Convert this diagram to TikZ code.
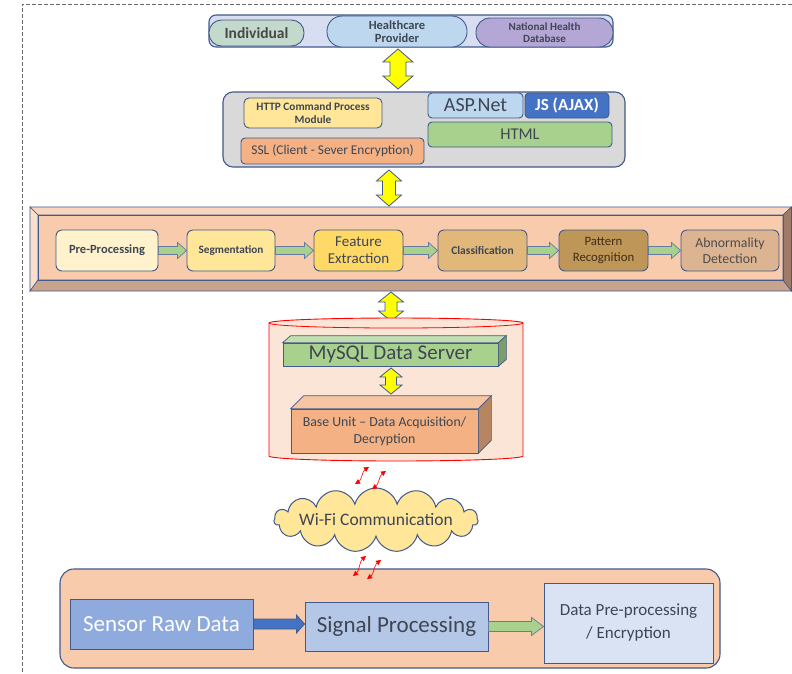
\documentclass[tikz,border=0pt]{standalone}
\usepackage{fontspec}
\setmainfont{Carlito}
\usetikzlibrary{shapes.symbols,arrows.meta,calc}
\definecolor{bord}{HTML}{41598B}
\definecolor{txt}{HTML}{3E4654}
\definecolor{topfill}{HTML}{D7DEF1}
\definecolor{indfill}{HTML}{C3D9CB}
\definecolor{hcpfill}{HTML}{BDD7EE}
\definecolor{nhdfill}{HTML}{B4A7D6}
\definecolor{webfill}{HTML}{D9D9D9}
\definecolor{yel1}{HTML}{FFE699}
\definecolor{yel2}{HTML}{FFF2CC}
\definecolor{yel3}{HTML}{FFD966}
\definecolor{greenf}{HTML}{A9D18E}
\definecolor{salmon}{HTML}{F4B183}
\definecolor{peach}{HTML}{F8CBAD}
\definecolor{blue1}{HTML}{4472C4}
\definecolor{blue2}{HTML}{8FAADC}
\definecolor{blue3}{HTML}{B4C7E7}
\definecolor{blue4}{HTML}{DAE3F3}
\definecolor{tan1}{HTML}{E2B77A}
\definecolor{tan2}{HTML}{BE9658}
\definecolor{tan3}{HTML}{DDB491}
\definecolor{cylf}{HTML}{FBE5D6}
\definecolor{arrowyel}{HTML}{FFFF00}
\definecolor{bevtop}{HTML}{F9D5BE}
\definecolor{bevleft}{HTML}{FBDFCE}
\definecolor{bevbot}{HTML}{C8A48D}
\definecolor{bevright}{HTML}{9E7C67}
\tikzset{
  base/.style={draw=bord, line width=0.9pt, inner sep=1pt, align=center, text=txt},
  rbox/.style={base, rounded corners=5pt},
  sqbox/.style={base},
  dblarrow/.style={draw=bord, fill=arrowyel, line width=0.8pt, line join=miter},
  grarrow/.style={draw=bord!80, fill=greenf, line width=0.7pt},
  blarrow/.style={draw=bord, fill=blue1, line width=0.7pt},
  squig/.style={red, line width=0.6pt, {Triangle[length=5pt,width=5pt]}-{Triangle[length=5pt,width=5pt]}},
}
% box: name, cx, cy, w, h, style, text
\newcommand\bx[7]{\node[#6, minimum width=#4pt, minimum height=#5pt] (#1) at (#2,#3) {#7};}
% vertical double block arrow: cx, y1, y2, head half width, shaft half width, head height, style
\newcommand\varrow[7]{%
\draw[#7] (#1,#2) -- ({#1+#4},{#2+#6}) -- ({#1+#5},{#2+#6}) -- ({#1+#5},{#3-#6}) -- ({#1+#4},{#3-#6}) -- (#1,#3) -- ({#1-#4},{#3-#6}) -- ({#1-#5},{#3-#6}) -- ({#1-#5},{#2+#6}) -- ({#1-#4},{#2+#6}) -- cycle;}
% horizontal block arrow between nodes: from, to, shaft half, head half, head length, style
\newcommand\harrow[6]{%
\draw[#6] let \p1=(#1), \p2=(#2) in (\x1,\y1+#3pt) -- (\x2-#5pt,\y1+#3pt) -- (\x2-#5pt,\y1+#4pt) -- (\x2,\y1) -- (\x2-#5pt,\y1-#4pt) -- (\x2-#5pt,\y1-#3pt) -- (\x1,\y1-#3pt) -- cycle;}
\begin{document}
\begin{tikzpicture}[x=1pt,y=-1pt]
\useasboundingbox (0,0) rectangle (792,673);
\fill[white] (0,0) rectangle (792,673);
% dashed frame
\draw[gray!85!black, dash pattern=on 4pt off 2pt, line width=1pt] (792,4) -- (22,4) -- (22,673);

% ---- top: users
\bx{topbox}{411}{31}{404}{32}{base, rounded corners=7pt, fill=topfill, line width=1.1pt}{}
\bx{indiv}{256.5}{33}{95}{26}{base, rounded corners=12.5pt, fill=indfill, font=\fontsize{15.5}{16}\selectfont\bfseries, text=black!72}{Individual}
\bx{hcp}{397}{31.5}{140}{31}{base, rounded corners=15pt, fill=hcpfill, font=\fontsize{12.5}{13.5}\selectfont\bfseries}{Healthcare\\Provider}
\bx{nhd}{544.5}{32.5}{137}{29}{base, rounded corners=14pt, fill=nhdfill, font=\fontsize{11}{12}\selectfont\bfseries}{National Health\\Database}

\varrow{398}{49}{89}{15}{8}{13}{dblarrow}

% ---- web layer
\bx{webbox}{424}{129.5}{402}{75}{base, rounded corners=10pt, fill=webfill, line width=1.1pt}{}
\bx{http}{313}{113}{138}{30}{rbox, fill=yel1, font=\fontsize{11.3}{13}\selectfont\bfseries}{HTTP Command Process\\Module}
\bx{asp}{475.5}{105.5}{95}{25}{rbox, rounded corners=4pt, fill=hcpfill, font=\fontsize{20}{21}\selectfont}{ASP.Net}
\bx{js}{567}{105.5}{84}{25}{rbox, rounded corners=4pt, fill=blue1, text=white, font=\fontsize{17}{18}\selectfont\bfseries}{JS (AJAX)}
\bx{html}{520}{134.5}{184}{25}{rbox, rounded corners=4pt, fill=greenf, font=\fontsize{16.5}{17}\selectfont}{HTML}
\bx{ssl}{332.5}{151}{183}{26}{rbox, rounded corners=4pt, fill=salmon, font=\fontsize{13.4}{14}\selectfont}{SSL (Client - Sever Encryption)}

\varrow{389}{170}{206}{12.5}{6.5}{11}{dblarrow}

% ---- processing pipeline (bevel)
\fill[peach] (38,215) rectangle (783,280);
\filldraw[fill=bevtop, draw=bord, line width=0.6pt] (30,207) -- (791.5,207) -- (783,215) -- (38,215) -- cycle;
\filldraw[fill=bevleft, draw=bord, line width=0.6pt] (30,207) -- (38,215) -- (38,280) -- (30,291) -- cycle;
\filldraw[fill=bevbot, draw=bord, line width=0.6pt] (30,291) -- (38,280) -- (783,280) -- (791.5,291) -- cycle;
\filldraw[fill=bevright, draw=bord, line width=0.6pt] (791.5,207) -- (791.5,291) -- (783,280) -- (783,215) -- cycle;
\draw[bord, line width=0.6pt] (38,215) rectangle (783,280);

\bx{pre}{107}{250.5}{102}{41}{rbox, rounded corners=6pt, fill=yel2, font=\fontsize{12.5}{14}\selectfont\bfseries}{Pre-Processing}
\bx{seg}{231}{250.5}{88}{41}{rbox, rounded corners=6pt, fill=yel1, font=\fontsize{11.2}{13}\selectfont\bfseries}{Segmentation}
\bx{feat}{358.5}{250.5}{89}{41}{rbox, rounded corners=6pt, fill=yel3, font=\fontsize{15}{17}\selectfont}{Feature\\Extraction}
\bx{cls}{482.5}{250.5}{89}{41}{rbox, rounded corners=6pt, fill=tan1, font=\fontsize{11.5}{13}\selectfont\bfseries}{Classification}
\bx{pat}{603.5}{250.5}{89}{41}{rbox, rounded corners=6pt, fill=tan2, text=black!65!brown, font=\fontsize{12.8}{15.5}\selectfont}{Pattern\\Recognition}
\bx{abn}{730}{250.5}{98}{41}{rbox, rounded corners=6pt, fill=tan3, text=black!70, font=\fontsize{13.8}{16}\selectfont}{Abnormality\\Detection}

\harrow{pre.east}{seg.west}{4}{8}{9}{grarrow}
\harrow{seg.east}{feat.west}{4}{8}{9}{grarrow}
\harrow{feat.east}{cls.west}{4}{8}{9}{grarrow}
\harrow{cls.east}{pat.west}{4}{8}{9}{grarrow}
\harrow{pat.east}{abn.west}{4}{8}{9}{grarrow}

\varrow{391}{292}{321}{12.5}{6}{10}{dblarrow}

% ---- database cylinder
\filldraw[fill=cylf, draw=red, line width=0.9pt] (269,323) -- (269,456) arc[start angle=180, end angle=0, x radius=127, y radius=5] -- (523,323) arc[start angle=0, end angle=-180, x radius=127, y radius=5] -- cycle;
\draw[red, line width=0.8pt] (269,323) arc[start angle=180, end angle=0, x radius=127, y radius=5];

% MySQL 3D box
\bx{mysql}{390.5}{354.5}{215}{23}{sqbox, fill=greenf, line width=0.7pt, font=\fontsize{21}{22}\selectfont}{MySQL Data Server}
\filldraw[fill=greenf!70!white, draw=bord, line width=0.7pt] (mysql.north west) -- ++(8,-7) -- ($(mysql.north east)+(8,-7)$) -- (mysql.north east) -- cycle;
\filldraw[fill=greenf!75!black, draw=bord, line width=0.7pt] (mysql.north east) -- ++(8,-7) -- ($(mysql.south east)+(8,-7)$) -- (mysql.south east) -- cycle;

\varrow{391}{368}{394}{11}{5.5}{9}{dblarrow}

% Base unit 3D box
\bx{base}{384.5}{431}{187}{44}{sqbox, fill=salmon, line width=0.7pt, font=\fontsize{13.8}{17}\selectfont}{Base Unit -- Data Acquisition/\\Decryption}
\filldraw[fill=salmon!75!white, draw=bord, line width=0.7pt] (base.north west) -- ++(13,-13) -- ($(base.north east)+(13,-13)$) -- (base.north east) -- cycle;
\filldraw[fill=salmon!75!black, draw=bord, line width=0.7pt] (base.north east) -- ++(13,-13) -- ($(base.south east)+(13,-13)$) -- (base.south east) -- cycle;

% cloud
\node[cloud, cloud puffs=15, cloud ignores aspect, draw=bord, fill=yel1, line width=1pt, minimum width=204pt, minimum height=64pt, inner sep=0pt] (wifi) at (376,520) {};
\node[text=txt, inner sep=0pt, font=\fontsize{17.5}{19}\selectfont] (wifitext) at (wifi.center) {Wi-Fi Communication};

% ---- wireless links
\coordinate (w1a) at (355,484); \coordinate (w1b) at (369,467);
\coordinate (w2a) at (372,489); \coordinate (w2b) at (386,471);
\coordinate (w3a) at (353,576); \coordinate (w3b) at (366,556);
\coordinate (w4a) at (367,579); \coordinate (w4b) at (381,560);

% ---- sensor node
\bx{sensbox}{390}{618.5}{660}{99}{base, rounded corners=14pt, fill=peach, line width=1.1pt}{}
\bx{sensor}{161.5}{624}{183}{50}{sqbox, fill=blue2, text=white, font=\fontsize{23}{25}\selectfont}{Sensor Raw Data}
\bx{sig}{396.5}{626.5}{183}{49}{sqbox, fill=blue3, font=\fontsize{23}{25}\selectfont}{Signal Processing}
\bx{dpp}{628.5}{623}{169}{80}{sqbox, fill=blue4, font=\fontsize{17}{23}\selectfont}{Data Pre-processing\\/ Encryption}

\harrow{sensor.east}{sig.west}{5}{9}{8}{blarrow}
\harrow{sig.east}{dpp.west}{5}{9}{12}{grarrow}

\draw[squig] (w1a) .. controls (361.6,479.9) and (362.4,471.1) .. (w1b);
\draw[squig] (w2a) .. controls (378.6,484.5) and (379.4,475.5) .. (w2b);
\draw[squig] (w3a) .. controls (359.4,570.7) and (359.6,561.3) .. (w3b);
\draw[squig] (w4a) .. controls (373.7,574.2) and (374.3,564.9) .. (w4b);
\end{tikzpicture}
\end{document}
